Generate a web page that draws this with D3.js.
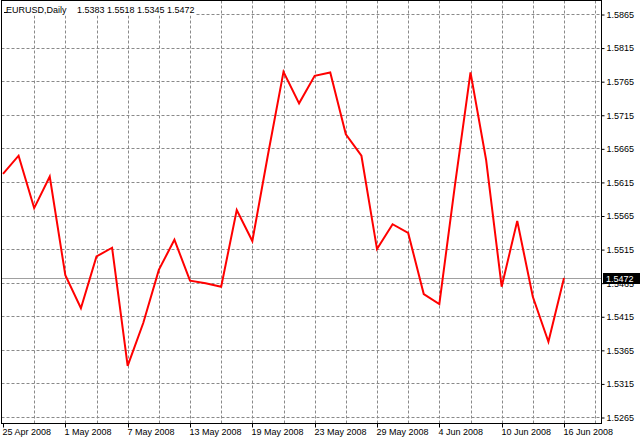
<!DOCTYPE html>
<html><head><meta charset="utf-8">
<script src="https://cdn.jsdelivr.net/npm/d3@7"></script>
<style>
html,body{margin:0;padding:0;background:#fff;}
svg{display:block;}
text{font-family:"Liberation Sans",Arial,sans-serif;font-size:9px;fill:#000;}
</style></head>
<body>
<svg id="c" width="640" height="439"></svg>
<script>
const dates = ["25 Apr","28 Apr","29 Apr","30 Apr","1 May","2 May","5 May","6 May","7 May","8 May","9 May","12 May","13 May","14 May","15 May","16 May","19 May","20 May","21 May","22 May","23 May","26 May","27 May","28 May","29 May","30 May","2 Jun","3 Jun","4 Jun","5 Jun","6 Jun","9 Jun","10 Jun","11 Jun","12 Jun","13 Jun","16 Jun"];
const closes = [1.5627,1.5654,1.5576,1.5623,1.5476,1.5427,1.5504,1.5517,1.5341,1.5405,1.5484,1.5529,1.5468,1.5464,1.5459,1.5573,1.5527,1.5655,1.5779,1.5732,1.5773,1.5778,1.5686,1.5654,1.5515,1.5552,1.5539,1.5448,1.5433,1.5610,1.5778,1.5648,1.5459,1.5557,1.5444,1.5377,1.5472];
const dateLabels = ["25 Apr 2008","1 May 2008","7 May 2008","13 May 2008","19 May 2008","23 May 2008","29 May 2008","4 Jun 2008","10 Jun 2008","16 Jun 2008"];
const priceTicks = [1.5865,1.5815,1.5765,1.5715,1.5665,1.5615,1.5565,1.5515,1.5465,1.5415,1.5365,1.5315,1.5265];
const titleText = "EURUSD,Daily";
const ohlc = ["1.5383","1.5518","1.5345","1.5472"];
const lastPrice = 1.5472;

const svg = d3.select("#c");
const x = d3.scaleLinear().domain([0, dates.length - 1]).range([3, 564]);
const y = d3.scaleLinear().domain([1.5265, 1.5865]).range([417, 14]);
const L = 1.5, R = 601.5, B = 423.5, T = 0.5;

// grid
const g = svg.append("g");
g.selectAll("line.h").data(priceTicks).join("line")
  .attr("x1", L).attr("x2", R)
  .attr("y1", d => Math.round(y(d)) + 0.5).attr("y2", d => Math.round(y(d)) + 0.5)
  .attr("stroke", "#8a8a8a").attr("stroke-dasharray", "3,2");
const vIdx = d3.range(2, 39, 2);
g.selectAll("line.v").data(vIdx).join("line")
  .attr("x1", d => Math.round(x(d)) + 0.5).attr("x2", d => Math.round(x(d)) + 0.5)
  .attr("y1", T).attr("y2", B)
  .attr("stroke", "#8a8a8a").attr("stroke-dasharray", "3,2");

// current price line
svg.append("line").attr("x1", L).attr("x2", R)
  .attr("y1", Math.round(y(lastPrice)) + 0.5).attr("y2", Math.round(y(lastPrice)) + 0.5)
  .attr("stroke", "#a0a0a0").attr("stroke-width", 1);

// title background + title
svg.append("rect").attr("x", 2).attr("y", 1).attr("width", 194).attr("height", 14.5).attr("fill", "#fff");
svg.append("line").attr("x1", 4).attr("x2", 7).attr("y1", 12.5).attr("y2", 12.5).attr("stroke", "#000");
svg.append("text").attr("x", 6).attr("y", 12.5).text(titleText);
svg.append("text").attr("x", 77).attr("y", 12.5).text(ohlc.join(" "));

// price line
const line = d3.line().x((d, i) => x(i)).y(d => y(d));
svg.append("path").datum(closes).attr("d", line)
  .attr("fill", "none").attr("stroke", "#ff0000").attr("stroke-width", 2).attr("stroke-linejoin", "miter");

// frame
svg.append("rect").attr("x", L).attr("y", T).attr("width", R - L).attr("height", B - T)
  .attr("fill", "none").attr("stroke", "#000");

// right axis
const yAxis = d3.axisRight(y).tickValues(priceTicks).tickSize(3).tickPadding(2).tickFormat(d3.format(".4f"));
const ya = svg.append("g").attr("transform", `translate(${R},0.5)`).call(yAxis);
ya.select(".domain").remove();
ya.selectAll("text").style("font-family", "Liberation Sans, Arial, sans-serif").style("font-size", "9px").attr("fill", "#000");

// bottom axis
const labelIdx = dateLabels.map(l => dates.indexOf(l.replace(" 2008", "")));
const xa = svg.append("g").attr("transform", `translate(0,${B})`);
xa.selectAll("line").data(labelIdx).join("line")
  .attr("x1", d => Math.round(x(d)) + 0.5).attr("x2", d => Math.round(x(d)) + 0.5)
  .attr("y1", 0).attr("y2", 4).attr("stroke", "#000");
xa.selectAll("text").data(labelIdx).join("text")
  .attr("x", d => Math.round(x(d)) - 0.5).attr("y", 11)
  .text((d, i) => dateLabels[i]);

// last price label
const ly = Math.round(y(lastPrice));
svg.append("rect").attr("x", 603).attr("y", ly - 5).attr("width", 37).attr("height", 11).attr("fill", "#000");
svg.append("text").attr("x", 606).attr("y", ly + 3.5).attr("fill", "#fff").style("fill", "#fff").text(d3.format(".4f")(lastPrice));
</script>
</body></html>
